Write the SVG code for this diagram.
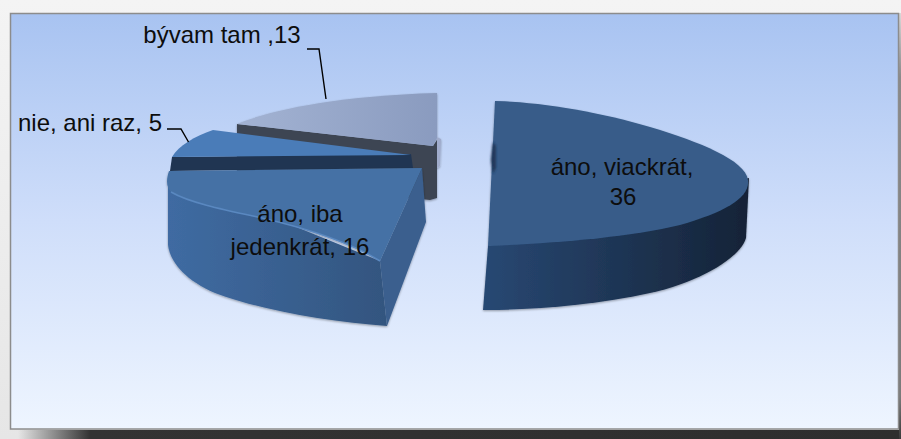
<svg xmlns="http://www.w3.org/2000/svg" width="901" height="439" viewBox="0 0 901 439">
  <defs>
    <linearGradient id="bg" x1="0" y1="0" x2="0" y2="1">
      <stop offset="0" stop-color="#a8c3f1"/>
      <stop offset="0.5" stop-color="#cfdefa"/>
      <stop offset="1" stop-color="#eef5ff"/>
    </linearGradient>
    <linearGradient id="outer" x1="0" y1="0" x2="0" y2="1">
      <stop offset="0" stop-color="#f4f4f4"/>
      <stop offset="1" stop-color="#e6e6e6"/>
    </linearGradient>
    <linearGradient id="shadowB" x1="0" y1="0" x2="1" y2="0">
      <stop offset="0.02" stop-color="#333" stop-opacity="0"/>
      <stop offset="0.1" stop-color="#333" stop-opacity="1"/>
      <stop offset="1" stop-color="#2e2e2e" stop-opacity="1"/>
    </linearGradient>
    <linearGradient id="shadowR" x1="0" y1="0" x2="0" y2="1">
      <stop offset="0" stop-color="#d8d8d8"/>
      <stop offset="0.15" stop-color="#8a8a8a"/>
      <stop offset="0.9" stop-color="#7a7a7a"/>
      <stop offset="1" stop-color="#3a3a3a"/>
    </linearGradient>
    <linearGradient id="side36" x1="484" y1="0" x2="748" y2="0" gradientUnits="userSpaceOnUse">
      <stop offset="0" stop-color="#284873"/>
      <stop offset="1" stop-color="#152337"/>
    </linearGradient>
    <linearGradient id="side16" x1="168" y1="0" x2="387" y2="0" gradientUnits="userSpaceOnUse">
      <stop offset="0" stop-color="#3f6ba2"/>
      <stop offset="1" stop-color="#33557f"/>
    </linearGradient>
    <linearGradient id="top13" x1="237" y1="0" x2="437" y2="0" gradientUnits="userSpaceOnUse">
      <stop offset="0" stop-color="#a3b3d3"/>
      <stop offset="1" stop-color="#8a9bbf"/>
    </linearGradient>
    <filter id="soft" x="-5%" y="-5%" width="110%" height="115%">
      <feDropShadow dx="0" dy="1" stdDeviation="1.2" flood-color="#000" flood-opacity="0.35"/>
    </filter>
    <filter id="blur" x="-50%" y="-50%" width="200%" height="200%">
      <feGaussianBlur stdDeviation="1.2"/>
    </filter>
    <style>
      .lbl { font-family: "Liberation Sans", Arial, sans-serif; font-size: 24px; fill: #0d0d0d; }
      .lead { fill: none; stroke: #000; stroke-width: 1.4; }
    </style>
  </defs>

  <!-- page background and frame -->
  <g id="frame">
    <rect x="0" y="0" width="901" height="439" fill="url(#outer)"/>
    <rect x="0" y="430" width="901" height="9" fill="url(#shadowB)"/>
    <rect x="899" y="13" width="2" height="426" fill="url(#shadowR)"/>
    <rect x="10.5" y="13.5" width="888" height="415.5" fill="url(#bg)" stroke="#8c8c8c" stroke-width="1.5"/>
  </g>

  <!-- slice: bývam tam, 13 -->
  <g id="slice-13" filter="url(#soft)">
    <path d="M237,124 L433,146 L437,140 L437,198 L430,200 L237,180 Z" fill="#3d4553"/>
    <path d="M237,124 C265,112 330,96 437,93 L437,138 L433,146 Z" fill="url(#top13)"/>
    <path d="M437,137 L441,139 L440,166 L437,168 Z" fill="#a0accc"/>
  </g>

  <!-- slice: nie, ani raz, 5 -->
  <g id="slice-5">
    <path d="M172,157 L411,154 L413,168 L170,171 Z" fill="#203552"/>
    <path d="M411,155 L213,130 C195,136 178,146 172,157 Z" fill="#4a7cb8"/>
  </g>

  <!-- slice: áno, iba jedenkrát, 16 -->
  <g id="slice-16" filter="url(#soft)">
    <path d="M168,175 L168,245 C170,262 185,280 215,293 C260,310 330,322 387,326 L380,261 Z" fill="url(#side16)"/>
    <path d="M422,168 L380,261 L387,326 L426,222 Z" fill="#3a5f8e"/>
    <path d="M422,168 L169,171 C166,180 166,188 172,193 C190,203 225,210 262,218 C305,228 350,242 380,261 Z" fill="#4571a5"/>
    <path d="M171,192 C190,203 225,210 262,218 C305,228 350,242 380,261" fill="none" stroke="#5a88c0" stroke-width="1.5"/>
  </g>

  <!-- slice: áno, viackrát, 36 -->
  <g id="slice-36" filter="url(#soft)">
    <path d="M749,178 L746,238 C740,258 700,282 650,293 C600,304 540,310 483,310 L488,246 Z" fill="url(#side36)"/>
    <path d="M495,101 C540,102 600,112 650,127 C700,142 745,160 748,180 C750,198 725,212 680,225 C630,237 560,243 488,246 L495,101 Z" fill="#375c89"/>
    <path d="M493,142 L496,146 L496,168 L493,174 L491,160 Z" fill="#22395a" filter="url(#blur)"/>
  </g>

  <!-- leader lines -->
  <g id="connectors">
    <path class="lead" d="M307,49 L319,49 L326,99"/>
    <path class="lead" d="M167,129 L181,129 L188.5,142"/>
  </g>

  <!-- labels -->
  <g id="labels">
    <text class="lbl" x="222" y="43" text-anchor="middle">bývam tam ,13</text>
    <text class="lbl" x="90" y="131" text-anchor="middle">nie, ani raz, 5</text>
    <text class="lbl" x="622" y="175" text-anchor="middle">áno, viackrát,</text>
    <text class="lbl" x="623" y="205" text-anchor="middle">36</text>
    <text class="lbl" x="300" y="222" text-anchor="middle">áno, iba</text>
    <text class="lbl" x="300" y="255" text-anchor="middle">jedenkrát, 16</text>
  </g>
</svg>
